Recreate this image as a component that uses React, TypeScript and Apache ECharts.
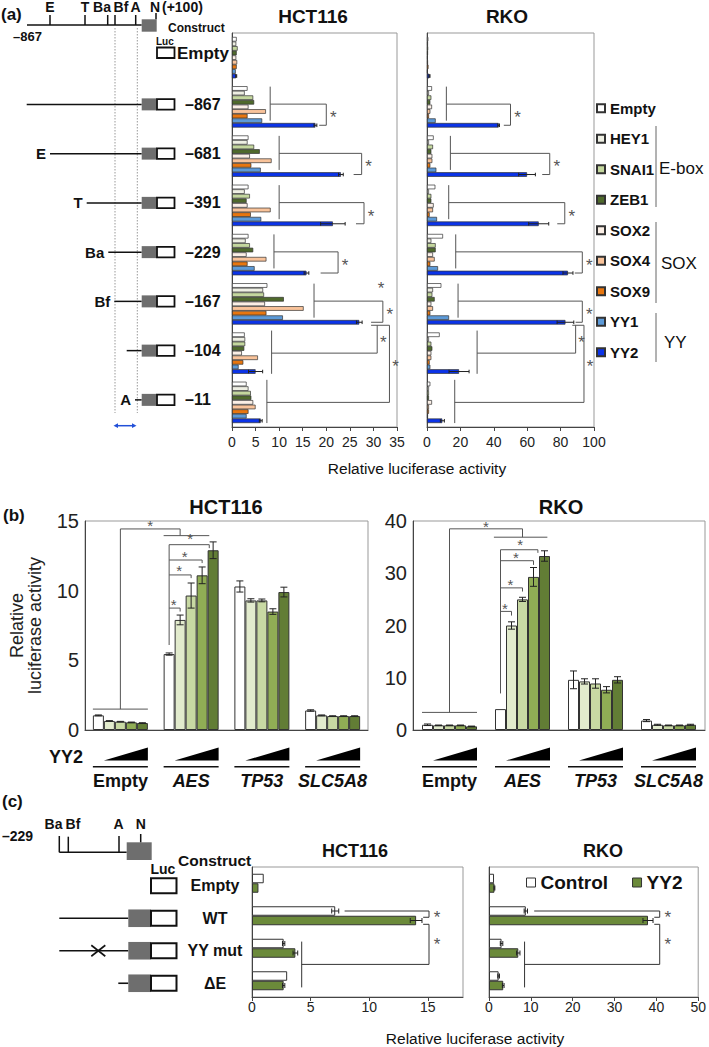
import React, { useEffect, useRef } from "react";
import * as echarts from "echarts";

const FONT = "'Liberation Sans', Arial, Helvetica, sans-serif";

// ---------------- Panel (a) ----------------
const constructsA = ["Empty", "–867", "–681", "–391", "–229", "–167", "–104", "–11"];
const factorNames = ["Empty", "HEY1", "SNAI1", "ZEB1", "SOX2", "SOX4", "SOX9", "YY1", "YY2"];
const factorColors = ["#ffffff", "#eeefe3", "#c4d79e", "#4f6a2c", "#fbefe6", "#f9c39a", "#e8760f", "#5c9ad8", "#0b33e8"];

const hctEmpty = [1.0, 3.3, 3.5, 3.5, 3.5, 7.5, 2.7, 3.1];
const hctHEY1 = [0.9, 2.7, 3.3, 2.7, 2.9, 6.6, 2.8, 3.5];
const hctSNAI1 = [1.2, 4.5, 4.7, 3.8, 3.8, 6.8, 2.8, 4.0];
const hctZEB1 = [1.0, 4.7, 5.9, 3.1, 4.5, 11.0, 2.6, 4.1];
const hctSOX2 = [0.9, 3.5, 3.8, 3.3, 3.1, 7.0, 2.1, 4.5];
const hctSOX4 = [1.1, 7.2, 8.4, 8.2, 7.3, 15.2, 5.5, 5.0];
const hctSOX9 = [1.0, 3.3, 4.1, 4.0, 3.3, 7.3, 2.4, 3.5];
const hctYY1 = [0.8, 6.4, 6.1, 6.2, 4.8, 10.8, 1.4, 3.1];
const hctYY2 = [0.9, 17.7, 23.1, 21.4, 15.8, 27.0, 5.0, 6.1];
const hctYY2Err = [0.1, 0.3, 0.5, 2.6, 0.5, 0.6, 1.5, 0.3];

const rkoEmpty = [0.8, 3.0, 4.0, 5.0, 9.6, 8.6, 7.6, 2.0];
const rkoHEY1 = [0.6, 1.2, 1.2, 1.2, 2.6, 3.6, 1.2, 1.2];
const rkoSNAI1 = [0.7, 2.6, 3.6, 2.6, 5.2, 3.2, 2.6, 1.2];
const rkoZEB1 = [0.6, 2.0, 2.6, 2.6, 5.2, 4.6, 3.2, 1.2];
const rkoSOX2 = [0.5, 3.0, 3.2, 4.0, 3.6, 2.6, 2.6, 3.0];
const rkoSOX4 = [0.6, 2.0, 3.2, 3.6, 4.6, 3.6, 2.6, 1.2];
const rkoSOX9 = [0.9, 1.2, 2.0, 1.6, 2.0, 2.0, 1.6, 1.2];
const rkoYY1 = [0.4, 5.2, 5.6, 6.0, 6.6, 13.2, 2.0, 0.6];
const rkoYY2 = [1.5, 42.9, 59.9, 66.9, 84.4, 82.9, 19.2, 9.2];
const rkoYY2Err = [0.3, 0.5, 5.0, 6.0, 3.0, 5.0, 6.0, 1.2];

const hctGroupBrackets = [
  { k: 1, v1: 8.1, v2: 20, v3: 18.5 },
  { k: 2, v1: 10, v2: 27.5, v3: 25.8 },
  { k: 3, v1: 10, v2: 28, v3: 26.3 },
  { k: 4, v1: 8.9, v2: 22.5, v3: 18.8 },
  { k: 5, v1: 17.4, v2: 32, v3: 29.5 },
];
const hctCrossBrackets = [{ k: 6, vA: 8.4, vB: 30.8 }, { k: 7, vA: 7.4, vB: 33.4 }];
const hctCrossTop = [29.5, 33.4];
const rkoGroupBrackets = [
  { k: 1, v1: 11.6, v2: 50, v3: 46 },
  { k: 2, v1: 14, v2: 73.5, v3: 69 },
  { k: 3, v1: 13, v2: 82.5, v3: 78 },
  { k: 4, v1: 17.2, v2: 93, v3: 88.5 },
  { k: 5, v1: 18.6, v2: 93, v3: 89 },
];
const rkoCrossBrackets = [{ k: 6, vA: 30, vB: 89 }, { k: 7, vA: 16.6, vB: 94 }];
const rkoCrossTop = [87, 94];

// ---------------- Panel (b) ----------------
const genesB = ["Empty", "AES", "TP53", "SLC5A8"];
const doseColors = ["#ffffff", "#e2ebcd", "#c8d9a3", "#90ad55", "#627d35"];
const hctDose0 = [1.05, 5.45, 10.3, 1.4];
const hctDose1 = [0.65, 7.9, 9.3, 1.05];
const hctDose2 = [0.6, 9.65, 9.3, 1.0];
const hctDose3 = [0.55, 11.1, 8.5, 1.0];
const hctDose4 = [0.5, 12.9, 9.9, 1.0];
const hctDose0Err = [0.03, 0.08, 0.4, 0.05];
const hctDose1Err = [0.02, 0.35, 0.12, 0.03];
const hctDose2Err = [0.02, 0.9, 0.1, 0.02];
const hctDose3Err = [0.02, 0.6, 0.2, 0.02];
const hctDose4Err = [0.02, 0.6, 0.35, 0.02];
const rkoDose0 = [1.0, 4.0, 9.6, 1.8];
const rkoDose1 = [0.9, 20.0, 9.3, 1.0];
const rkoDose2 = [0.9, 25.0, 8.9, 0.9];
const rkoDose3 = [0.9, 29.3, 7.7, 0.9];
const rkoDose4 = [0.7, 33.3, 9.6, 1.0];
const rkoDose0Err = [0.15, 0, 1.7, 0.2];
const rkoDose1Err = [0.05, 0.7, 0.5, 0.1];
const rkoDose2Err = [0.05, 0.4, 0.9, 0.05];
const rkoDose3Err = [0.05, 1.8, 0.6, 0.05];
const rkoDose4Err = [0.05, 1.0, 0.6, 0.1];

const hctBLink = { base: 1.5, top: 14.43, drop: 13.95, dropBar: 1, aesLeft: -0.5, aesRight: 3.65 };
const hctBStem = [6.1, 13.3];
const hctBSteps = [
  { j: 1, top: 8.75, end: 8.5 },
  { j: 2, top: 11.13, end: 10.9 },
  { j: 3, top: 12.2, end: 11.98 },
  { j: 3.65, top: 13.3, end: 13.05 },
];
const rkoBLink = { base: 3.37, top: 38.5, drop: 36.9, dropBar: 2, aesLeft: -0.6, aesRight: 4.26 };
const rkoBStem = [7.0, 34.5];
const rkoBSteps = [
  { j: 1, top: 22.7, end: 21.9 },
  { j: 2, top: 27.2, end: 26.5 },
  { j: 3, top: 32.4, end: 31.6 },
  { j: 3.4, top: 34.5, end: 33.9 },
];

// ---------------- Panel (c) ----------------
const constructsC = ["Empty", "WT", "YY mut", "ΔE"];
const hctCtrl = [1.0, 7.1, 2.7, 3.0];
const hctCtrlErr = [0, 0.3, 0.1, 0];
const hctYY2c = [0.55, 14.0, 3.7, 2.7];
const hctYY2cErr = [0, 0.5, 0.2, 0.1];
const rkoCtrl = [1.2, 8.8, 3.0, 2.3];
const rkoCtrlErr = [0, 0.4, 0.3, 0.2];
const rkoYY2c = [1.3, 38.0, 7.0, 3.4];
const rkoYY2cErr = [0.1, 1.2, 0.4, 0.2];
const hctCBr = { start: 7.9, right: 15.1, tick: 14.6, low: 4.24 };
const rkoCBr = { start: 10.8, right: 40.8, tick: 39.5, low: 8.5 };

const BW_A = 4.6;
const BW_B = 11;
const BW_C = 9.5;

function bar(name: string, data: number[], color: string, xi: number, yi: number, bw: number, bw2: number) {
  return {
    type: "bar", name, data, xAxisIndex: xi, yAxisIndex: yi, barWidth: bw, barGap: "0%",
    silent: true, itemStyle: { color, borderColor: "#333", borderWidth: bw2 },
  };
}

function errSeries(xi: number, yi: number, vals: number[], errs: number[], offset: number, horizontal: boolean, cap: number) {
  return {
    type: "custom", xAxisIndex: xi, yAxisIndex: yi, silent: true, z: 5,
    data: vals.map((v, i) => [i, v, errs[i]]),
    encode: horizontal ? { x: 1, y: 0 } : { x: 0, y: 1 },
    renderItem: (_p: any, api: any) => {
      const c = api.value(0), v = api.value(1), e = api.value(2);
      if (!e) return null;
      const st = { stroke: "#222", lineWidth: 1 };
      if (horizontal) {
        const a = api.coord([v - e, c]), b = api.coord([v + e, c]);
        const y = a[1] + offset;
        return { type: "group", children: [
          { type: "line", shape: { x1: a[0], y1: y, x2: b[0], y2: y }, style: st },
          { type: "line", shape: { x1: a[0], y1: y - cap, x2: a[0], y2: y + cap }, style: st },
          { type: "line", shape: { x1: b[0], y1: y - cap, x2: b[0], y2: y + cap }, style: st },
        ] };
      }
      const a = api.coord([c, v - e]), b = api.coord([c, v + e]);
      const x = a[0] + offset;
      return { type: "group", children: [
        { type: "line", shape: { x1: x, y1: a[1], x2: x, y2: b[1] }, style: st },
        { type: "line", shape: { x1: x - cap, y1: a[1], x2: x + cap, y2: a[1] }, style: st },
        { type: "line", shape: { x1: x - cap, y1: b[1], x2: x + cap, y2: b[1] }, style: st },
      ] };
    },
  };
}

const dark = { show: true, lineStyle: { color: "#444", width: 1 } };
const noTick = { show: false };
const tick = { show: true, length: 4, lineStyle: { color: "#444" } };

function buildOption() {
  const series: any[] = [];
  const hctA = [hctEmpty, hctHEY1, hctSNAI1, hctZEB1, hctSOX2, hctSOX4, hctSOX9, hctYY1, hctYY2];
  const rkoA = [rkoEmpty, rkoHEY1, rkoSNAI1, rkoZEB1, rkoSOX2, rkoSOX4, rkoSOX9, rkoYY1, rkoYY2];
  factorNames.forEach((n, i) => series.push(bar(n, hctA[i], factorColors[i], 0, 0, BW_A, 0.7)));
  factorNames.forEach((n, i) => series.push(bar(n, rkoA[i], factorColors[i], 1, 1, BW_A, 0.7)));
  series.push(errSeries(0, 0, hctYY2, hctYY2Err, 4 * BW_A, true, 1.8));
  series.push(errSeries(1, 1, rkoYY2, rkoYY2Err, 4 * BW_A, true, 1.8));

  const hctB = [hctDose0, hctDose1, hctDose2, hctDose3, hctDose4];
  const hctBE = [hctDose0Err, hctDose1Err, hctDose2Err, hctDose3Err, hctDose4Err];
  const rkoB = [rkoDose0, rkoDose1, rkoDose2, rkoDose3, rkoDose4];
  const rkoBE = [rkoDose0Err, rkoDose1Err, rkoDose2Err, rkoDose3Err, rkoDose4Err];
  hctB.forEach((d, j) => series.push(bar("dose" + j, d, doseColors[j], 2, 2, BW_B, 1)));
  rkoB.forEach((d, j) => series.push(bar("dose" + j, d, doseColors[j], 3, 3, BW_B, 1)));
  hctB.forEach((d, j) => series.push(errSeries(2, 2, d, hctBE[j], (j - 2) * BW_B, false, 3.5)));
  rkoB.forEach((d, j) => series.push(errSeries(3, 3, d, rkoBE[j], (j - 2) * BW_B, false, 3.5)));

  series.push(bar("Control", hctCtrl, "#ffffff", 4, 4, BW_C, 1));
  series.push(bar("YY2", hctYY2c, "#6b8a3a", 4, 4, BW_C, 1));
  series.push(bar("Control", rkoCtrl, "#ffffff", 5, 5, BW_C, 1));
  series.push(bar("YY2", rkoYY2c, "#6b8a3a", 5, 5, BW_C, 1));
  series.push(errSeries(4, 4, hctCtrl, hctCtrlErr, -0.5 * BW_C, true, 2.5));
  series.push(errSeries(4, 4, hctYY2c, hctYY2cErr, 0.5 * BW_C, true, 2.5));
  series.push(errSeries(5, 5, rkoCtrl, rkoCtrlErr, -0.5 * BW_C, true, 2.5));
  series.push(errSeries(5, 5, rkoYY2c, rkoYY2cErr, 0.5 * BW_C, true, 2.5));

  const valAx = (g: number, max: number, interval: number, fs: number, margin: number) => ({
    type: "value", gridIndex: g, min: 0, max, interval, axisLine: dark, axisTick: tick,
    splitLine: { show: false },
    axisLabel: { fontSize: fs, color: "#222", fontFamily: FONT, margin, showMaxLabel: max % interval === 0 },
  });
  const catAx = (g: number, data: string[], inverse: boolean) => ({
    type: "category", gridIndex: g, data, inverse, axisLine: dark, axisTick: noTick,
    axisLabel: { show: false }, splitLine: { show: false },
  });
  const yValB = (g: number, max: number, interval: number, name?: string) => ({
    type: "value", gridIndex: g, min: 0, max, interval, axisLine: dark, axisTick: noTick,
    splitLine: { show: false },
    axisLabel: { fontSize: 20, color: "#222", fontFamily: FONT, margin: 6 },
    name, nameLocation: "middle", nameGap: 41,
    nameTextStyle: { fontSize: 18, lineHeight: 18, color: "#222", fontFamily: FONT },
  });

  const border = { show: true, borderColor: "#999", borderWidth: 1, backgroundColor: "transparent" };
  const titleStyle = (fs: number) => ({ fontSize: fs, fontWeight: "bold", color: "#111", fontFamily: FONT });

  return {
    animation: false,
    backgroundColor: "#ffffff",
    textStyle: { fontFamily: FONT },
    title: [
      { text: "HCT116", left: 313, top: 7, textAlign: "center", padding: 0, textStyle: titleStyle(19) },
      { text: "RKO", left: 507, top: 7, textAlign: "center", padding: 0, textStyle: titleStyle(19) },
      { text: "HCT116", left: 226, top: 497, textAlign: "center", padding: 0, textStyle: titleStyle(20) },
      { text: "RKO", left: 561, top: 497, textAlign: "center", padding: 0, textStyle: titleStyle(20) },
      { text: "HCT116", left: 355, top: 842, textAlign: "center", padding: 0, textStyle: titleStyle(18) },
      { text: "RKO", left: 603, top: 842, textAlign: "center", padding: 0, textStyle: titleStyle(18) },
    ],
    legend: [
      {
        data: factorNames, orient: "vertical", left: 596, top: 100, itemWidth: 8, itemHeight: 8, itemGap: 14,
        icon: "rect", selectedMode: false, padding: 0,
        textStyle: { fontSize: 15, fontWeight: "bold", color: "#111", fontFamily: FONT, lineHeight: 16.5 },
      },
      {
        data: [
          { name: "Control", itemStyle: { color: "#ffffff", borderColor: "#333", borderWidth: 1 } },
          { name: "YY2", itemStyle: { color: "#6b8a3a", borderColor: "#333", borderWidth: 1 } },
        ],
        orient: "horizontal", left: 526, top: 873, itemWidth: 9, itemHeight: 9, itemGap: 24,
        icon: "rect", selectedMode: false, padding: 0,
        textStyle: { fontSize: 19, fontWeight: "bold", color: "#111", fontFamily: FONT },
      },
    ],
    grid: [
      { left: 232, top: 33, width: 165, height: 394, ...border },
      { left: 427, top: 33, width: 167, height: 394, ...border },
      { left: 85, top: 521, width: 283, height: 209, ...border },
      { left: 413, top: 521, width: 292, height: 209, ...border },
      { left: 252, top: 867, width: 211, height: 130, ...border },
      { left: 489, top: 867, width: 212, height: 130, ...border },
    ],
    xAxis: [
      valAx(0, 35, 5, 14, 8),
      valAx(1, 100, 20, 14, 8),
      catAx(2, genesB, false),
      catAx(3, genesB, false),
      valAx(4, 18, 5, 14, 3),
      valAx(5, 50, 10, 14, 3),
    ],
    yAxis: [
      catAx(0, constructsA, true),
      catAx(1, constructsA, true),
      yValB(2, 15, 5, "Relative\nluciferase activity"),
      yValB(3, 40, 10),
      catAx(4, constructsC, true),
      catAx(5, constructsC, true),
    ],
    series,
  };
}

function buildGraphics(chart: any) {
  const P = (g: number, x: number, y: number) => chart.convertToPixel({ gridIndex: g }, [x, y]) as number[];
  const els: any[] = [];
  const line = (x1: number, y1: number, x2: number, y2: number, stroke = "#555", lineWidth = 1, dash?: number[]) =>
    els.push({ type: "line", silent: true, shape: { x1, y1, x2, y2 }, style: { stroke, lineWidth, lineDash: dash } });
  const text = (t: string, x: number, y: number, o: any = {}) =>
    els.push({
      type: "text", silent: true, x, y, rotation: o.rotation || 0,
      style: {
        text: t, fill: o.fill || "#111",
        font: `${o.italic ? "italic " : ""}${o.bold ? "bold " : ""}${o.size || 14}px ${FONT}`,
        align: o.align || "center", verticalAlign: "middle",
        textAlign: o.align || "center", textVerticalAlign: "middle",
      },
    });
  const rect = (x: number, y: number, w: number, h: number, fill: string, stroke?: string, lw = 1) =>
    els.push({ type: "rect", silent: true, shape: { x, y, width: w, height: h }, style: { fill, stroke, lineWidth: lw } });
  const star = (x: number, y: number, size = 17) => text("*", x, y + 3, { size, fill: "#555" });

  // ---------- (a) ----------
  const ax = (g: number, v: number) => P(g, v, 0)[0];
  const ay = (g: number, k: number, j: number) => P(g, 0, k)[1] + (j - 4) * BW_A;
  const groupSets: any[] = [[0, hctGroupBrackets, hctCrossBrackets, hctCrossTop], [1, rkoGroupBrackets, rkoCrossBrackets, rkoCrossTop]];
  for (const [g, list, cross, ctop] of groupSets) {
    for (const b of list) {
      const x1 = ax(g, b.v1), x2 = ax(g, b.v2), x3 = ax(g, b.v3);
      const yTop = ay(g, b.k, -0.4), yBot = ay(g, b.k, 7), yMid = ay(g, b.k, 3.4), yEnd = ay(g, b.k, 8);
      line(x1, yTop, x1, yBot); line(x1, yMid, x2, yMid); line(x2, yMid, x2, yEnd); line(x3, yEnd, x2, yEnd);
      star(x2 + 7, (yMid + yEnd) / 2);
    }
    const yT = ay(g, 5, 8) + 3;
    for (const b of cross) {
      const xA = ax(g, b.vA), xB = ax(g, b.vB);
      const y0 = ay(g, b.k, -0.9), y1 = ay(g, b.k, 8.5), ym = ay(g, b.k, 4);
      line(xA, y0, xA, y1); line(xA, ym, xB, ym); line(xB, ym, xB, yT);
      star(xB + 6, (ym + yT) / 2);
    }
    line(ax(g, ctop[0]), yT, ax(g, ctop[1]), yT);
  }
  star(ax(0, 31.6), ay(0, 5, 0));

  // construct diagram (a)
  text("(a)", 1, 14, { bold: true, size: 17, align: "left" });
  line(27, 25, 141.7, 25, "#111", 1.5);
  for (const x of [50, 85, 107.7, 115, 135.7]) line(x, 15, x, 25, "#111", 1.5);
  [["E", 50], ["T", 85], ["Ba", 102], ["Bf", 121], ["A", 135.5], ["N", 155]].forEach(([t, x]: any) =>
    text(t, x, 7, { bold: true, size: 14 }));
  text("(+100)", 162, 7, { bold: true, size: 14, align: "left" });
  rect(141.7, 19.3, 15, 12.4, "#6e6e6e");
  line(156, 13, 156, 19.3, "#111", 1.5);
  text("–867", 13, 36, { bold: true, size: 13, align: "left" });
  text("Construct", 168, 28, { bold: true, size: 12, align: "left" });
  text("Luc", 156, 41, { bold: true, size: 10, align: "left" });
  rect(157, 47.5, 17.5, 10.5, "#fff", "#111", 1.8);
  text("Empty", 177, 53, { bold: true, size: 17, align: "left" });
  line(115, 28, 115, 413, "#999", 1, [1.5, 1.5]);
  line(137.3, 28, 137.3, 413, "#999", 1, [1.5, 1.5]);
  line(116, 425.7, 134, 425.7, "#2250d8", 1.5);
  els.push({ type: "polygon", silent: true, shape: { points: [[113.5, 425.7], [118, 423.3], [118, 428.1]] }, style: { fill: "#2250d8" } });
  els.push({ type: "polygon", silent: true, shape: { points: [[136.5, 425.7], [132, 423.3], [132, 428.1]] }, style: { fill: "#2250d8" } });
  const rowStart = [26.7, 50, 86.7, 108.3, 114.3, 126.7, 135];
  const rowSite = ["", "E", "T", "Ba", "Bf", "", "A"];
  for (let k = 1; k <= 7; k++) {
    const y = P(0, 0, k)[1] - 2.5;
    const xs = rowStart[k - 1];
    line(xs, y, 141.7, y, "#111", 1.5);
    if (rowSite[k - 1]) text(rowSite[k - 1], xs - 4, y, { bold: true, size: 15, align: "right" });
    rect(141.7, y - 6, 15, 12, "#6e6e6e");
    rect(157, y - 5.3, 17.5, 10.6, "#fff", "#111", 1.8);
    text(constructsA[k], 185, y, { bold: true, size: 16, align: "left" });
  }
  // legend group labels (a)
  line(656, 126, 656, 207, "#666");
  line(656, 222, 656, 303, "#666");
  line(656, 313, 656, 362, "#666");
  text("E-box", 659, 168, { size: 17, align: "left" });
  text("SOX", 661, 263, { size: 17, align: "left" });
  text("YY", 664, 342, { size: 17, align: "left" });
  text("Relative luciferase activity", 417, 468, { size: 15.5 });

  // ---------- (b) ----------
  const bx = (g: number, k: number, j: number) => P(g, k, 0)[0] + (j - 2) * BW_B;
  const by = (g: number, v: number) => P(g, 0, v)[1];
  const bSets: any[] = [[2, hctBLink, hctBStem, hctBSteps, 6], [3, rkoBLink, rkoBStem, rkoBSteps, 5]];
  for (const [g, L, stem, steps, sOff] of bSets) {
    line(bx(g, 0, -0.5), by(g, L.base), bx(g, 0, 4.5), by(g, L.base));
    line(bx(g, 0, 2), by(g, L.base), bx(g, 0, 2), by(g, L.top));
    line(bx(g, 0, 2), by(g, L.top), bx(g, 1, L.dropBar), by(g, L.top));
    line(bx(g, 1, L.dropBar), by(g, L.top), bx(g, 1, L.dropBar), by(g, L.drop));
    line(bx(g, 1, L.aesLeft), by(g, L.drop), bx(g, 1, L.aesRight), by(g, L.drop));
    star((bx(g, 0, 2) + bx(g, 1, L.dropBar)) / 2, by(g, L.top) - sOff, 15);
    const x0 = bx(g, 1, 0);
    line(x0, by(g, stem[0]), x0, by(g, stem[1]));
    steps.forEach((s: any, i: number) => {
      const xe = bx(g, 1, s.j);
      line(x0, by(g, s.top), xe, by(g, s.top));
      line(xe, by(g, s.top), xe, by(g, s.end));
      const extra = i === steps.length - 1 ? 2 : 0;
      star((x0 + xe) / 2 - 1 + extra, by(g, s.top) - sOff - 1 - extra, 15);
    });
    for (let k = 0; k < 4; k++) {
      const xl = bx(g, k, 0.5), xr = bx(g, k, 4.5);
      els.push({ type: "polygon", silent: true, shape: { points: [[xl, 760.5], [xr, 760.5], [xr, 747.5]] }, style: { fill: "#000" } });
      line(bx(g, k, -0.5), 766.7, xr, 766.7, "#111", 1.5);
      text(genesB[k], bx(g, k, 2), 781, { bold: true, italic: k > 0, size: 18 });
    }
  }
  text("(b)", 3, 515, { bold: true, size: 17, align: "left" });
  text("YY2", 83, 757, { bold: true, size: 18, align: "right" });

  // ---------- (c) ----------
  const cx = (g: number, v: number) => P(g, v, 0)[0];
  const cy = (g: number, k: number, j: number) => P(g, 0, k)[1] + (j - 0.5) * BW_C;
  const cSets: any[] = [[4, hctCBr], [5, rkoCBr]];
  for (const [g, B] of cSets) {
    const xr = cx(g, B.right), xs = cx(g, B.start), xt = cx(g, B.tick), xl = cx(g, B.low);
    const y1 = cy(g, 1, 0), y2 = cy(g, 1, 0.66), y3 = cy(g, 1, 1.4), y4 = cy(g, 2, 2.2);
    line(xs, y1, xr, y1, "#333"); line(xr, y1, xr, y2, "#333"); line(xt, y2, xr, y2, "#333");
    line(xt, y3, xr, y3, "#333"); line(xr, y3, xr, y4, "#333"); line(xl, y4, xr, y4, "#333");
    line(xl, cy(g, 2, -0.2), xl, cy(g, 3, 1.2), "#333");
    star(xr + 8, (y1 + y2) / 2);
    star(xr + 8, y3 + 17);
  }
  text("(c)", 2, 801, { bold: true, size: 17, align: "left" });
  text("–229", 2, 836, { bold: true, size: 14, align: "left" });
  [["Ba", 53.5], ["Bf", 73], ["A", 118.5], ["N", 140.7]].forEach(([t, x]: any) => text(t, x, 824, { bold: true, size: 14 }));
  line(59.3, 836, 59.3, 852.3, "#111", 1.5);
  line(68.3, 836.7, 68.3, 852.3, "#111", 1.5);
  line(119, 836, 119, 852.3, "#111", 1.5);
  line(59.3, 852.3, 126.7, 852.3, "#111", 1.5);
  rect(126.7, 842.3, 25, 17.7, "#6e6e6e");
  line(140.7, 834, 140.7, 842.3, "#111", 1.5);
  text("Luc", 150.5, 869, { bold: true, size: 14, align: "left" });
  text("Construct", 178, 860, { bold: true, size: 15.5, align: "left" });
  const cStart = [0, 59.3, 59.3, 118.3];
  for (let k = 0; k < 4; k++) {
    const y = P(4, 0, k)[1] + 2.5;
    if (k > 0) {
      line(cStart[k], y, 128.3, y, "#111", 1.6);
      rect(128.3, y - 8.8, 22.4, 17.6, "#6e6e6e");
    }
    rect(151, y - 7.5, 25.5, 15, "#fff", "#111", 2);
    text(constructsC[k], 215, y, { bold: true, size: 16 });
  }
  const yx = P(4, 0, 2)[1] + 2.5;
  line(91.3, yx - 5.5, 105.3, yx + 5.5, "#111", 1.6);
  line(91.3, yx + 5.5, 105.3, yx - 5.5, "#111", 1.6);
  text("Relative luciferase activity", 475, 1038, { size: 15.5 });

  return els;
}

export default function App() {
  const ref = useRef<HTMLDivElement>(null);
  useEffect(() => {
    const chart = echarts.init(ref.current!, undefined, { renderer: "svg" });
    chart.setOption(buildOption() as any);
    chart.setOption({ graphic: buildGraphics(chart) } as any);
    return () => chart.dispose();
  }, []);
  return (
    <div
      ref={ref}
      style={{ position: "fixed", left: 0, top: 0, width: 709, height: 1047, background: "#fff" }}
    />
  );
}
